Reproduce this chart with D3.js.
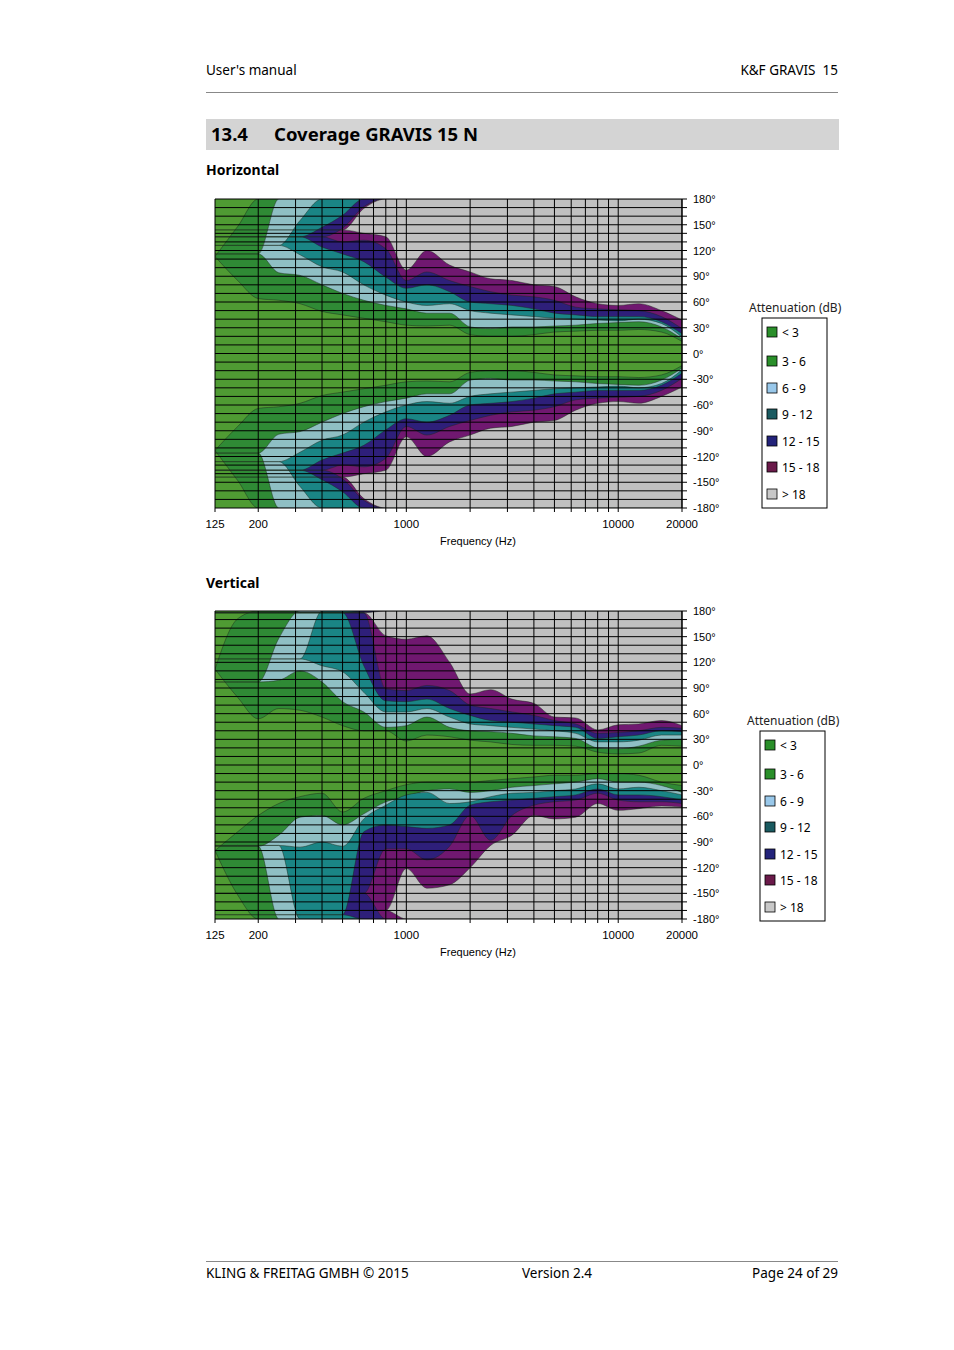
<!DOCTYPE html>
<html>
<head>
<meta charset="utf-8">
<script src="https://cdn.jsdelivr.net/npm/d3@7"></script>
<style>
  body { margin: 0; background: #fff; }
  svg { display: block; }
</style>
</head>
<body>
<svg id="page" width="954" height="1350"></svg>
<script>
// 1/3 octave frequencies used as the x points of the boundaries
const freqs = [125,160,200,250,315,400,500,630,800,1000,1250,1600,2000,2500,3150,4000,5000,6300,8000,10000,12500,16000,20000];

const levels = ["< 3", "3 - 6", "6 - 9", "9 - 12", "12 - 15", "15 - 18", "> 18"];
const plotColors = ["#4f9b33", "#2f8a35", "#8fbfc4", "#1a8585", "#2e1f7a", "#701870", "#c0c0c0"];
const legendColors = ["#2a8f2a", "#2a8f2a", "#99c8ea", "#1a5a60", "#23237a", "#6a1a4a", "#c8c8c8"];

// Horizontal, angle (deg) where attenuation passes 3,6,9,12,15,18 dB (inner edge)
const h3 = [113,85,64,62,58,49,45,41,37,33,32,33,22,20,20,22,25,26,27,27,28,25,14];
const h6 = [116,116,116,94,91,80,70,62,56,52,47,47,31,29,31,31,32,33,35,36,37,31,17];
const h9 = [126,126,126,126,115,101,95,80,68,60,56,58,50,47,45,43,41,40,39,38,40,35,19];
const h12 = [136,136,136,136,136,124,116,107,89,76,80,72,60,58,56,52,47,45,43,43,43,37,23];
const h15 = [136,136,136,136,136,136,130,132,122,85,95,85,78,72,68,66,62,54,52,51,50,43,29];
const h18 = [144,144,144,144,144,144,144,140,136,97,120,103,95,87,85,80,78,66,58,56,58,50,39];
// outer edge (towards the rear)
const h3o = [113,148,180,180,180,180,180,180,180,180,180,180,180,180,180,180,180,180,180,180,180,180,180];
const h6o = [116,116,116,180,180,180,180,180,180,180,180,180,180,180,180,180,180,180,180,180,180,180,180];
const h9o = [126,126,126,126,155,180,180,180,180,180,180,180,180,180,180,180,180,180,180,180,180,180,180];
const h12o = [136,136,136,136,136,147,161,180,180,180,180,180,180,180,180,180,180,180,180,180,180,180,180];
const h15o = [136,136,136,136,136,136,146,171,180,180,180,180,180,180,180,180,180,180,180,180,180,180,180];
const h18o = [144,144,144,144,144,144,144,169,180,180,180,180,180,180,180,180,180,180,180,180,180,180,180];

// Vertical, upper half
const v3 = [112,79,54,66,64,56,46,40,40,28,35,33,29,27,24,23,23,22,15,13,14,23,22];
const v6 = [97,97,97,99,110,97,74,62,44,46,56,44,40,39,37,34,33,31,20,19,22,29,30];
const v9 = [124,124,124,124,124,116,109,85,62,62,66,56,48,46,44,42,40,37,27,27,29,35,35];
const v12 = [178,178,178,178,178,178,178,116,75,74,77,66,58,52,50,48,46,44,31,33,35,40,39];
const v15 = [178,178,178,178,178,178,178,178,89,87,93,87,70,66,62,58,52,48,37,38,40,44,43];
const v18 = [178,178,178,178,178,178,178,178,151,147,151,120,83,88,77,72,56,55,41,47,48,52,46];
const v3o = [112,171,180,180,180,180,180,180,180,180,180,180,180,180,180,180,180,180,180,180,180,180,180];
const v6o = [97,97,97,148,180,180,180,180,180,180,180,180,180,180,180,180,180,180,180,180,180,180,180];
const v9o = [124,124,124,124,124,180,180,180,180,180,180,180,180,180,180,180,180,180,180,180,180,180,180];
const v12o = [178,178,178,178,178,178,178,180,180,180,180,180,180,180,180,180,180,180,180,180,180,180,180];
const v15o = [178,178,178,178,178,178,178,178,180,180,180,180,180,180,180,180,180,180,180,180,180,180,180];
const v18o = [178,178,178,178,178,178,178,178,180,180,180,180,180,180,180,180,180,180,180,180,180,180,180];

// Vertical, lower half (magnitudes of negative angles)
const w3 = [100,78,59,45,37,33,55,39,30,23,20,20,20,18,16,14,12,12,10,10,12,20,24];
const w6 = [95,95,95,82,61,59,70,57,43,37,30,28,32,30,26,24,22,20,16,20,20,24,32];
const w9 = [94,94,94,94,96,90,95,63,47,35,32,45,43,37,33,32,30,28,22,28,26,30,35];
const w12 = [175,175,175,175,175,175,175,78,70,72,74,70,47,43,41,39,37,35,28,35,35,37,41];
const w15 = [150,150,150,150,150,150,150,150,98,98,111,95,59,88,59,47,43,41,33,41,43,43,45];
const w18 = [170,170,170,170,170,170,170,170,170,121,144,140,120,94,82,59,63,61,45,53,51,48,49];
const w3o = [100,152,180,180,180,180,180,180,180,180,180,180,180,180,180,180,180,180,180,180,180,180,180];
const w6o = [95,95,95,180,180,180,180,180,180,180,180,180,180,180,180,180,180,180,180,180,180,180,180];
const w9o = [94,94,94,94,180,180,180,180,180,180,180,180,180,180,180,180,180,180,180,180,180,180,180];
const w12o = [175,175,175,175,175,175,175,180,180,180,180,180,180,180,180,180,180,180,180,180,180,180,180];
const w15o = [150,150,150,150,150,150,150,150,180,180,180,180,180,180,180,180,180,180,180,180,180,180,180];
const w18o = [170,170,170,170,170,170,170,170,170,180,180,180,180,180,180,180,180,180,180,180,180,180,180];

const gridFreqs = [200,300,400,500,600,700,800,900,1000,2000,3000,4000,5000,6000,7000,8000,9000,10000,20000];
const freqLabels = [125,200,1000,10000,20000];
const angleLabels = [180,150,120,90,60,30,0,-30,-60,-90,-120,-150,-180];

const svg = d3.select("#page");
const font = "'Noto Sans', 'Open Sans', sans-serif";
const chartFont = "'Liberation Sans', Arial, sans-serif";

// page header / footer
svg.append("text").attr("x", 206).attr("y", 75).attr("font-family", font).attr("font-size", 13.5).text("User's manual");
svg.append("text").attr("x", 838).attr("y", 75).attr("text-anchor", "end").attr("font-family", font).attr("font-size", 13.5).attr("xml:space", "preserve").text("K&F GRAVIS  15");
svg.append("line").attr("x1", 206).attr("x2", 838).attr("y1", 92.5).attr("y2", 92.5).attr("stroke", "#888");
svg.append("rect").attr("x", 206).attr("y", 119).attr("width", 633).attr("height", 31).attr("fill", "#d4d4d4");
svg.append("text").attr("x", 211).attr("y", 141).attr("font-family", font).attr("font-weight", "bold").attr("font-size", 18.5).text("13.4");
svg.append("text").attr("x", 274).attr("y", 141).attr("font-family", font).attr("font-weight", "bold").attr("font-size", 18.5).text("Coverage GRAVIS 15 N");
svg.append("text").attr("x", 206).attr("y", 175).attr("font-family", font).attr("font-weight", "bold").attr("font-size", 14).text("Horizontal");
svg.append("text").attr("x", 206).attr("y", 588).attr("font-family", font).attr("font-weight", "bold").attr("font-size", 14).text("Vertical");
svg.append("line").attr("x1", 206).attr("x2", 838).attr("y1", 1261.5).attr("y2", 1261.5).attr("stroke", "#888");
svg.append("text").attr("x", 206).attr("y", 1278).attr("font-family", font).attr("font-size", 13.5).text("KLING & FREITAG GMBH © 2015");
svg.append("text").attr("x", 522).attr("y", 1278).attr("font-family", font).attr("font-size", 13.5).text("Version 2.4");
svg.append("text").attr("x", 838).attr("y", 1278).attr("text-anchor", "end").attr("font-family", font).attr("font-size", 13.5).text("Page 24 of 29");

function drawPanel(id, top, bottom, upper, lower, legendX, legendY) {
    const x = d3.scaleLog().domain([125, 20000]).range([215, 682]);
    const y = d3.scaleLinear().domain([180, -180]).range([top, bottom]);
    const g = svg.append("g");

    g.append("clipPath").attr("id", id).append("rect")
        .attr("x", 215).attr("y", top).attr("width", 467).attr("height", bottom - top);
    const plot = g.append("g").attr("clip-path", `url(#${id})`);
    plot.append("rect").attr("x", 215).attr("y", top).attr("width", 467).attr("height", bottom - top)
        .attr("fill", plotColors[0]);

    const area = d3.area().x(d => x(d.f)).y0(d => y(d.a)).y1(d => y(d.b)).curve(d3.curveMonotoneX);

    // paint each level band on top of the previous
    for (let k = 0; k < 6; k++) {
        [[upper, 1], [lower, -1]].forEach(function([half, sign]) {
            const inner = half[0][k], outer = half[1][k];
            const pts = freqs.map((f, i) => ({f: f, a: sign * inner[i], b: sign * outer[i]}));
            plot.append("path").attr("d", area(pts))
                .attr("fill", plotColors[k + 1])
                .attr("stroke", "#1d2a1d").attr("stroke-width", 0.6).attr("stroke-opacity", 0.8);
        });
    }

    // grid
    gridFreqs.forEach(function(f) {
        g.append("line").attr("x1", x(f)).attr("x2", x(f)).attr("y1", top).attr("y2", bottom + 4)
            .attr("stroke", "#000").attr("stroke-width", 1);
    });
    g.append("line").attr("x1", 215).attr("x2", 215).attr("y1", top).attr("y2", bottom + 4).attr("stroke", "#000");
    d3.range(180, -181, -10).forEach(function(a) {
        g.append("line").attr("x1", 215).attr("x2", 687).attr("y1", y(a)).attr("y2", y(a))
            .attr("stroke", "#000").attr("stroke-width", 1);
    });
    g.append("line").attr("x1", 682).attr("x2", 682).attr("y1", top).attr("y2", bottom)
        .attr("stroke", "#000");

    angleLabels.forEach(function(a) {
        g.append("text").attr("x", 693).attr("y", y(a) + 4)
            .attr("font-family", chartFont).attr("font-size", 11).text(a + "°");
    });
    freqLabels.forEach(function(f) {
        g.append("text").attr("x", x(f)).attr("y", bottom + 20).attr("text-anchor", "middle")
            .attr("font-family", chartFont).attr("font-size", 11.5).text(f);
    });
    g.append("text").attr("x", 478).attr("y", bottom + 37).attr("text-anchor", "middle")
        .attr("font-family", chartFont).attr("font-size", 11).text("Frequency (Hz)");

    // legend
    g.append("text").attr("x", legendX - 13).attr("y", legendY - 6)
        .attr("font-family", font).attr("font-size", 12).attr("fill", "#222").text("Attenuation (dB)");
    g.append("rect").attr("x", legendX).attr("y", legendY).attr("width", 65).attr("height", 190)
        .attr("fill", "none").attr("stroke", "#000");
    const rows = [14, 43, 70, 96, 123, 149, 176];
    levels.forEach(function(name, i) {
        g.append("rect").attr("x", legendX + 5).attr("y", legendY + rows[i] - 5).attr("width", 10).attr("height", 10)
            .attr("fill", legendColors[i]).attr("stroke", "#000").attr("stroke-width", 0.8);
        g.append("text").attr("x", legendX + 20).attr("y", legendY + rows[i] + 4.5)
            .attr("font-family", font).attr("font-size", 12).text(name);
    });
}

drawPanel("clipH", 199, 508,
    [[h3, h6, h9, h12, h15, h18], [h3o, h6o, h9o, h12o, h15o, h18o]],
    [[h3, h6, h9, h12, h15, h18], [h3o, h6o, h9o, h12o, h15o, h18o]],
    762, 318);
drawPanel("clipV", 611, 919,
    [[v3, v6, v9, v12, v15, v18], [v3o, v6o, v9o, v12o, v15o, v18o]],
    [[w3, w6, w9, w12, w15, w18], [w3o, w6o, w9o, w12o, w15o, w18o]],
    760, 731);
</script>
</body>
</html>
